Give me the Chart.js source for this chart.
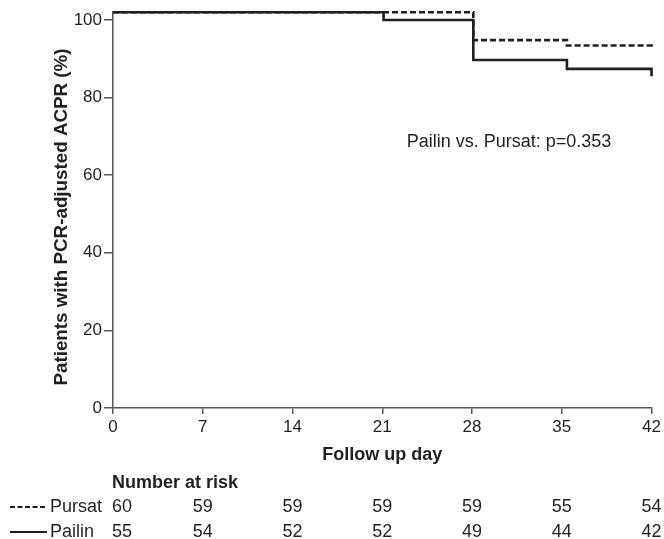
<!DOCTYPE html>
<html>
<head>
<meta charset="utf-8">
<script src="https://cdn.jsdelivr.net/npm/chart.js@4"></script>
<style>
  body { margin: 0; background: #fff; }
  #wrap { width: 664px; height: 539px; }
</style>
</head>
<body>
<div id="wrap"><canvas id="km" width="664" height="539"></canvas></div>
<script>
// survival curves (day, %)
const pailinDays = [0, 21.1, 28.1, 35.4, 42];
const pailinPct = [102, 100, 89.7, 87.4, 85.5];
const pursatDays = [0, 28.1, 35.4, 42];
const pursatPct = [102, 94.8, 93.4, 92.5];

const xTicks = [0, 7, 14, 21, 28, 35, 42];
const yTicks = [0, 20, 40, 60, 80, 100];

// number at risk table
const riskDays = [0, 7, 14, 21, 28, 35, 42];
const pursatRisk = [60, 59, 59, 59, 59, 55, 54];
const pailinRisk = [55, 54, 52, 52, 49, 44, 42];

const yTitle = "Patients with PCR-adjusted ACPR (%)";
const pValueText = "Pailin vs. Pursat: p=0.353";

const FONT = "'Liberation Sans', Arial, Helvetica, sans-serif";
const INK = "#231f20";

function toPoints(days, pct) {
  return days.map((d, i) => ({ x: d, y: pct[i] }));
}

const extras = {
  id: "extras",
  afterDraw(chart) {
    const ctx = chart.ctx;
    const x = chart.scales.x;
    const y = chart.scales.y;
    ctx.save();
    ctx.fillStyle = INK;

    // y axis title, a bit lower than the plot centre like the original
    ctx.save();
    ctx.translate(62, 217);
    ctx.rotate(-Math.PI / 2);
    ctx.font = "bold 18.8px " + FONT;
    ctx.textAlign = "center";
    ctx.textBaseline = "middle";
    ctx.fillText(yTitle, 0, 0);
    ctx.restore();

    // p-value note
    ctx.font = "18px " + FONT;
    ctx.textAlign = "left";
    ctx.textBaseline = "middle";
    ctx.fillText(pValueText, x.getPixelForValue(22.9), y.getPixelForValue(68.5));

    // number at risk
    ctx.font = "bold 18px " + FONT;
    ctx.fillText("Number at risk", x.left - 1, 483);

    ctx.font = "18px " + FONT;
    const rows = [
      { name: "Pursat", vals: pursatRisk, dash: [5, 2.5], y: 507 },
      { name: "Pailin", vals: pailinRisk, dash: [], y: 532 }
    ];
    rows.forEach(r => {
      ctx.strokeStyle = INK;
      ctx.lineWidth = 2;
      ctx.setLineDash(r.dash);
      ctx.beginPath();
      ctx.moveTo(10, r.y);
      ctx.lineTo(47, r.y);
      ctx.stroke();
      ctx.setLineDash([]);
      ctx.textAlign = "left";
      ctx.fillText(r.name, 50, r.y);
      r.vals.forEach((v, i) => {
        const px = x.getPixelForValue(riskDays[i]);
        if (i === 0) {
          ctx.textAlign = "left";
          ctx.fillText(String(v), px - 1, r.y);
        } else {
          ctx.textAlign = "center";
          ctx.fillText(String(v), px, r.y);
        }
      });
    });
    ctx.restore();
  }
};

new Chart(document.getElementById("km"), {
  type: "line",
  data: {
    datasets: [
      {
        label: "Pailin",
        data: toPoints(pailinDays, pailinPct),
        borderColor: INK,
        borderWidth: 2.6,
        stepped: "before",
        pointRadius: 0,
        fill: false,
        clip: false
      },
      {
        label: "Pursat",
        data: toPoints(pursatDays, pursatPct),
        borderColor: INK,
        borderWidth: 2.6,
        borderDash: [6, 3],
        stepped: "before",
        pointRadius: 0,
        fill: false,
        clip: false
      }
    ]
  },
  options: {
    responsive: false,
    animation: false,
    events: [],
    layout: { padding: { top: 12, right: 11, bottom: 73, left: 0 } },
    plugins: {
      legend: { display: false },
      tooltip: { enabled: false }
    },
    scales: {
      x: {
        type: "linear",
        min: 0,
        max: 42,
        afterFit: s => { s.height = 58; },
        afterBuildTicks: s => { s.ticks = xTicks.map(v => ({ value: v })); },
        border: { color: "#555", width: 1.5 },
        grid: { drawOnChartArea: false, drawTicks: true, tickLength: 6, color: "#555", lineWidth: 1.5 },
        ticks: { color: INK, font: { family: FONT, size: 17 }, padding: 3, maxRotation: 0 },
        title: {
          display: true,
          text: "Follow up day",
          color: INK,
          font: { family: FONT, size: 18, weight: "bold" },
          padding: { top: 0, bottom: 0 }
        }
      },
      y: {
        min: 0,
        max: 102,
        afterFit: s => { s.width = 113; },
        afterBuildTicks: s => { s.ticks = yTicks.map(v => ({ value: v })); },
        border: { color: "#555", width: 1.5 },
        grid: { drawOnChartArea: false, drawTicks: true, tickLength: 9, color: "#555", lineWidth: 1.5 },
        ticks: { color: INK, font: { family: FONT, size: 17 }, padding: 2 },
        title: { display: false }
      }
    }
  },
  plugins: [extras]
});
</script>
</body>
</html>
